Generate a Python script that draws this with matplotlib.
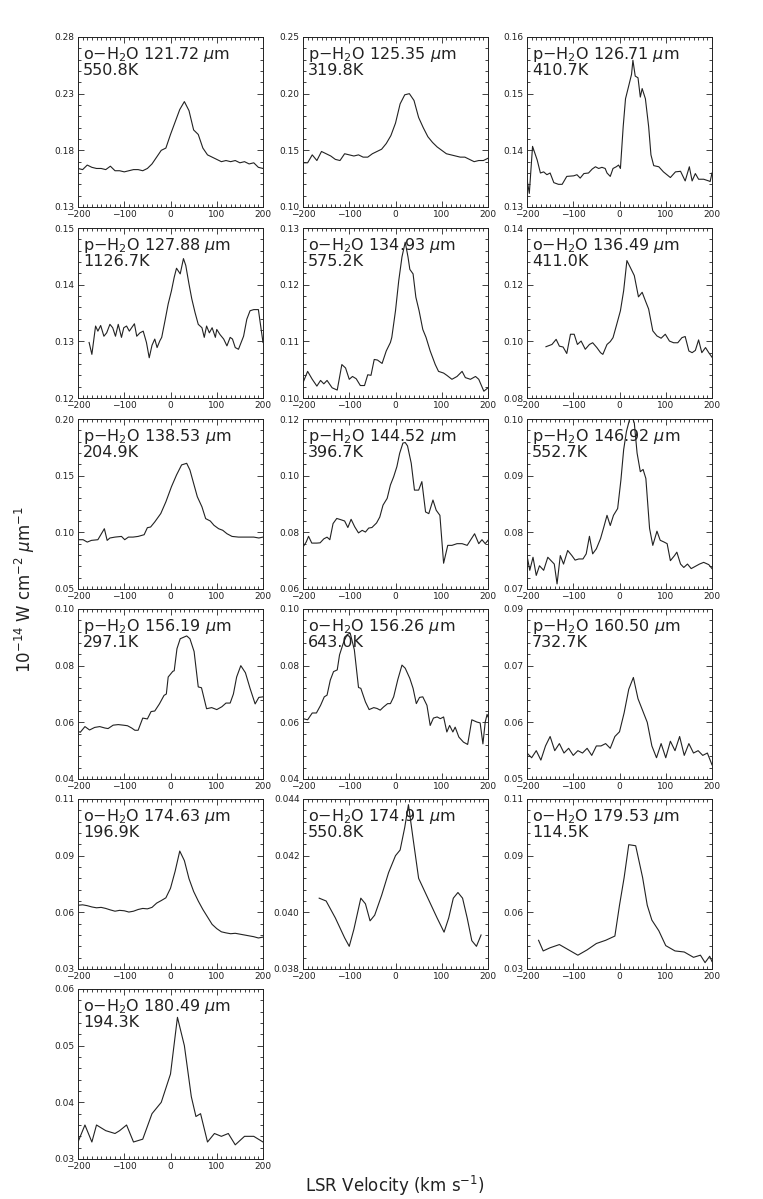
import matplotlib
matplotlib.use('Agg')
import matplotlib.pyplot as plt
from matplotlib.ticker import MultipleLocator, AutoMinorLocator
import numpy as np

# line names and upper level energies
names = ['o$-$H$_2$O 121.72 $\\mu$m', 'p$-$H$_2$O 125.35 $\\mu$m', 'p$-$H$_2$O 126.71 $\\mu$m',
         'p$-$H$_2$O 127.88 $\\mu$m', 'o$-$H$_2$O 134.93 $\\mu$m', 'o$-$H$_2$O 136.49 $\\mu$m',
         'p$-$H$_2$O 138.53 $\\mu$m', 'p$-$H$_2$O 144.52 $\\mu$m', 'p$-$H$_2$O 146.92 $\\mu$m',
         'p$-$H$_2$O 156.19 $\\mu$m', 'o$-$H$_2$O 156.26 $\\mu$m', 'p$-$H$_2$O 160.50 $\\mu$m',
         'o$-$H$_2$O 174.63 $\\mu$m', 'o$-$H$_2$O 174.91 $\\mu$m', 'o$-$H$_2$O 179.53 $\\mu$m',
         'o$-$H$_2$O 180.49 $\\mu$m']
temps = ['550.8K', '319.8K', '410.7K', '1126.7K', '575.2K', '411.0K', '204.9K', '396.7K',
         '552.7K', '297.1K', '643.0K', '732.7K', '196.9K', '550.8K', '114.5K', '194.3K']

ylims = [(0.13, 0.28), (0.10, 0.25), (0.13, 0.16), (0.12, 0.15), (0.10, 0.13), (0.08, 0.14),
         (0.05, 0.20), (0.06, 0.12), (0.07, 0.10), (0.04, 0.10), (0.04, 0.10), (0.05, 0.086),
         (0.032, 0.112), (0.038, 0.044), (0.032, 0.112), (0.03, 0.06)]
ytlabels = [['0.13', '0.18', '0.23', '0.28'], ['0.10', '0.15', '0.20', '0.25'],
            ['0.13', '0.14', '0.15', '0.16'], ['0.12', '0.13', '0.14', '0.15'],
            ['0.10', '0.11', '0.12', '0.13'], ['0.08', '0.10', '0.12', '0.14'],
            ['0.05', '0.10', '0.15', '0.20'], ['0.06', '0.08', '0.10', '0.12'],
            ['0.07', '0.08', '0.09', '0.10'], ['0.04', '0.06', '0.08', '0.10'],
            ['0.04', '0.06', '0.08', '0.10'], ['0.05', '0.06', '0.07', '0.09'],
            ['0.03', '0.06', '0.09', '0.11'], ['0.038', '0.040', '0.042', '0.044'],
            ['0.03', '0.06', '0.09', '0.11'], ['0.03', '0.04', '0.05', '0.06']]

v_step = list(range(-200, 201, 10))

v1 = v_step
f1 = [0.164, 0.163, 0.167, 0.165, 0.164, 0.164, 0.163, 0.166, 0.162, 0.162, 0.161, 0.162, 0.163,
      0.163, 0.162, 0.164, 0.168, 0.174, 0.180, 0.182, 0.194, 0.205, 0.216, 0.223, 0.215, 0.198,
      0.194, 0.182, 0.176, 0.174, 0.172, 0.170, 0.171, 0.170, 0.171, 0.169, 0.170, 0.168, 0.169,
      0.165, 0.164]

v2 = v_step
f2 = [0.139, 0.139, 0.146, 0.141, 0.149, 0.147, 0.145, 0.142, 0.141, 0.147, 0.146, 0.145, 0.146,
      0.144, 0.144, 0.147, 0.149, 0.151, 0.156, 0.163, 0.174, 0.191, 0.199, 0.200, 0.194, 0.179,
      0.170, 0.162, 0.157, 0.153, 0.150, 0.147, 0.146, 0.145, 0.144, 0.144, 0.142, 0.140, 0.141,
      0.141, 0.143]

v3 = [-200, -195, -188, -178, -171, -164, -157, -150, -142, -132, -124, -114, -99, -92, -85, -77,
      -67, -59, -52, -45, -38, -31, -27, -20, -14, -7, -2, 2, 8, 13, 20, 26, 29, 34, 40, 45, 49,
      56, 63, 68, 74, 85, 95, 110, 121, 132, 142, 151, 157, 164, 171, 182, 193, 196, 200]
f3 = [0.1349, 0.1324, 0.1407, 0.1383, 0.1360, 0.1362, 0.1357, 0.1360, 0.1343, 0.1340, 0.1340,
      0.1354, 0.1355, 0.1357, 0.1351, 0.1359, 0.1360, 0.1367, 0.1371, 0.1368, 0.1370, 0.1368,
      0.1360, 0.1354, 0.1368, 0.1371, 0.1374, 0.1368, 0.1442, 0.1491, 0.1514, 0.1534, 0.1559,
      0.1531, 0.1528, 0.1494, 0.1509, 0.1491, 0.1442, 0.1392, 0.1373, 0.1371, 0.1362, 0.1352,
      0.1362, 0.1363, 0.1346, 0.1371, 0.1346, 0.1359, 0.1349, 0.1349, 0.1346, 0.1345, 0.1360]

v4 = [-176, -170, -162, -157, -151, -144, -138, -131, -125, -119, -113, -106, -101, -95, -89,
      -84, -78, -73, -66, -59, -52, -46, -40, -34, -29, -23, -19, -12, -5, 2, 8, 13, 21, 28, 33,
      40, 46, 53, 60, 68, 73, 78, 84, 90, 97, 100, 107, 115, 122, 129, 134, 140, 147, 158, 165,
      172, 180, 190, 200]
f4 = [0.1298, 0.1277, 0.1327, 0.1318, 0.1328, 0.1309, 0.1315, 0.1330, 0.1324, 0.1309, 0.1330,
      0.1307, 0.1324, 0.1327, 0.1318, 0.1324, 0.1331, 0.1309, 0.1315, 0.1318, 0.1298, 0.1271,
      0.1293, 0.1304, 0.1289, 0.1301, 0.1307, 0.1336, 0.1366, 0.1389, 0.1413, 0.1429, 0.1419,
      0.1446, 0.1434, 0.1401, 0.1375, 0.1351, 0.1330, 0.1324, 0.1307, 0.1327, 0.1315, 0.1324,
      0.1307, 0.1321, 0.1312, 0.1304, 0.1292, 0.1307, 0.1304, 0.1289, 0.1286, 0.1309, 0.1339,
      0.1354, 0.1356, 0.1356, 0.1298]

v5 = [-200, -190, -180, -170, -162, -155, -148, -137, -126, -116, -108, -100, -93, -85, -76, -67,
      -60, -53, -46, -39, -29, -20, -11, -8, 0, 7, 14, 21, 27, 31, 38, 44, 51, 59, 66, 75, 86, 93,
      104, 111, 122, 133, 144, 151, 162, 173, 180, 191, 200]
f5 = [0.1027, 0.1047, 0.1033, 0.1021, 0.1031, 0.1025, 0.1031, 0.1018, 0.1014, 0.1059, 0.1053,
      0.1033, 0.1038, 0.1034, 0.1022, 0.1022, 0.1041, 0.1040, 0.1068, 0.1067, 0.1061, 0.1083,
      0.1098, 0.1107, 0.1154, 0.1207, 0.1249, 0.1275, 0.1249, 0.1227, 0.1219, 0.1178, 0.1154,
      0.1121, 0.1107, 0.1083, 0.1059, 0.1047, 0.1044, 0.1040, 0.1033, 0.1038, 0.1047, 0.1036,
      0.1033, 0.1038, 0.1033, 0.1012, 0.1018]

v6 = [-159, -146, -137, -130, -122, -114, -106, -98, -91, -83, -74, -65, -58, -49, -41, -36, -27,
      -20, -14, -7, 2, 9, 16, 23, 32, 41, 49, 56, 63, 72, 81, 90, 99, 108, 117, 126, 135, 142,
      150, 157, 164, 171, 178, 186, 193, 200]
f6 = [0.0981, 0.0989, 0.1007, 0.0983, 0.0980, 0.0957, 0.1025, 0.1025, 0.0989, 0.1001, 0.0972,
      0.0989, 0.0995, 0.0978, 0.0960, 0.0954, 0.0989, 0.0999, 0.1013, 0.1054, 0.1108, 0.1179,
      0.1285, 0.1262, 0.1232, 0.1157, 0.1173, 0.1143, 0.1114, 0.1037, 0.1019, 0.1011, 0.1025,
      0.1001, 0.0995, 0.0995, 0.1013, 0.1017, 0.0966, 0.0960, 0.0968, 0.1005, 0.0960, 0.0978,
      0.0960, 0.0944]

v7 = [-200, -189, -180, -171, -157, -143, -137, -131, -120, -106, -99, -91, -81, -70, -57, -50,
      -43, -34, -21, -10, 2, 13, 24, 35, 42, 51, 58, 68, 76, 86, 94, 104, 113, 122, 133, 147, 165,
      180, 191, 200]
f7 = [0.0935, 0.0935, 0.0914, 0.0929, 0.0935, 0.1032, 0.0929, 0.0950, 0.0958, 0.0964, 0.0935,
      0.0958, 0.0958, 0.0964, 0.0979, 0.1041, 0.1047, 0.1092, 0.1166, 0.1269, 0.1402, 0.1506,
      0.1595, 0.1609, 0.1550, 0.1417, 0.1314, 0.1225, 0.1121, 0.1100, 0.1062, 0.1032, 0.1018,
      0.0988, 0.0964, 0.0958, 0.0958, 0.0958, 0.0950, 0.0958]

v8 = [-200, -193, -188, -181, -170, -163, -155, -148, -142, -135, -127, -119, -110, -103, -96,
      -88, -80, -72, -65, -58, -51, -41, -34, -27, -18, -11, -4, 3, 9, 16, 21, 26, 34, 41, 50, 57,
      65, 72, 81, 88, 96, 104, 113, 122, 133, 144, 155, 162, 171, 180, 187, 194, 200]
f8 = [0.0748, 0.0766, 0.0786, 0.0762, 0.0762, 0.0763, 0.0777, 0.0783, 0.0774, 0.0831, 0.0849,
      0.0845, 0.0840, 0.0817, 0.0846, 0.0819, 0.0798, 0.0807, 0.0801, 0.0815, 0.0817, 0.0833,
      0.0854, 0.0896, 0.0920, 0.0967, 0.0996, 0.1032, 0.1079, 0.1115, 0.1117, 0.1105, 0.1044,
      0.0949, 0.0949, 0.0979, 0.0872, 0.0866, 0.0914, 0.0878, 0.0860, 0.0691, 0.0754, 0.0754,
      0.0760, 0.0760, 0.0754, 0.0772, 0.0795, 0.0760, 0.0774, 0.0760, 0.0772]

v9 = [-200, -194, -187, -180, -173, -164, -155, -148, -141, -135, -128, -121, -112, -103, -96,
      -88, -79, -72, -65, -58, -50, -41, -34, -27, -20, -13, -4, 3, 9, 15, 22, 27, 32, 38, 45, 51,
      57, 65, 72, 81, 88, 96, 103, 110, 119, 124, 132, 139, 147, 155, 164, 173, 182, 193, 200]
f9 = [0.0759, 0.0733, 0.0756, 0.0724, 0.0741, 0.0733, 0.0756, 0.0750, 0.0744, 0.0709, 0.0759,
      0.0744, 0.0768, 0.0759, 0.0751, 0.0753, 0.0753, 0.0762, 0.0793, 0.0762, 0.0771, 0.0789,
      0.0809, 0.0830, 0.0812, 0.0830, 0.0842, 0.0892, 0.0946, 0.0978, 0.1000, 0.1005, 0.0993,
      0.0940, 0.0907, 0.0911, 0.0895, 0.0807, 0.0777, 0.0802, 0.0786, 0.0783, 0.0780, 0.0750,
      0.0759, 0.0765, 0.0744, 0.0738, 0.0744, 0.0736, 0.0740, 0.0744, 0.0747, 0.0743, 0.0736]

v10 = [-200, -195, -185, -175, -164, -153, -142, -135, -124, -113, -102, -93, -84, -77, -70, -60,
       -50, -42, -34, -24, -14, -9, -5, 5, 8, 14, 21, 35, 42, 51, 60, 67, 78, 89, 100, 111, 120,
       129, 136, 143, 152, 162, 172, 183, 191, 200]
f10 = [0.0568, 0.0565, 0.0585, 0.0573, 0.0582, 0.0585, 0.0580, 0.0578, 0.0590, 0.0592, 0.0590,
       0.0588, 0.0580, 0.0572, 0.0572, 0.0615, 0.0612, 0.0638, 0.0640, 0.0665, 0.0695, 0.0700,
       0.0760, 0.0780, 0.0782, 0.0860, 0.0895, 0.0905, 0.0895, 0.0850, 0.0725, 0.0722, 0.0648,
       0.0652, 0.0645, 0.0655, 0.0668, 0.0668, 0.0700, 0.0760, 0.0800, 0.0775, 0.0720, 0.0665,
       0.0688, 0.0690]

v11 = [-200, -190, -180, -171, -162, -154, -148, -141, -134, -126, -121, -113, -105, -98, -89,
       -80, -75, -65, -57, -47, -40, -33, -26, -17, -11, -4, 5, 14, 21, 31, 38, 45, 52, 59, 68,
       75, 82, 90, 97, 104, 111, 117, 124, 129, 137, 147, 156, 165, 176, 183, 189, 194, 198, 200]
f11 = [0.0613, 0.0609, 0.0633, 0.0633, 0.0660, 0.0690, 0.0696, 0.0749, 0.0779, 0.0785, 0.0838,
       0.0879, 0.0909, 0.0915, 0.0856, 0.0723, 0.0720, 0.0672, 0.0645, 0.0652, 0.0649, 0.0643,
       0.0654, 0.0666, 0.0666, 0.0690, 0.0751, 0.0802, 0.0791, 0.0755, 0.0720, 0.0666, 0.0688,
       0.0690, 0.0660, 0.0589, 0.0615, 0.0619, 0.0613, 0.0619, 0.0566, 0.0589, 0.0566, 0.0583,
       0.0548, 0.0530, 0.0522, 0.0609, 0.0601, 0.0598, 0.0524, 0.0601, 0.0628, 0.0619]

v12 = v_step
f12 = [0.0555, 0.0545, 0.0560, 0.0540, 0.0570, 0.0590, 0.0560, 0.0575, 0.0555, 0.0565, 0.0550,
       0.0560, 0.0555, 0.0565, 0.0550, 0.0570, 0.0570, 0.0575, 0.0565, 0.0590, 0.0600, 0.0640,
       0.0690, 0.0715, 0.0670, 0.0645, 0.0620, 0.0570, 0.0545, 0.0575, 0.0545, 0.0580, 0.0560,
       0.0590, 0.0550, 0.0575, 0.0555, 0.0560, 0.0550, 0.0555, 0.0530]

v13 = v_step
f13 = [0.0620, 0.0622, 0.0618, 0.0612, 0.0608, 0.0610, 0.0605, 0.0598, 0.0592, 0.0596, 0.0594,
       0.0588, 0.0592, 0.0600, 0.0605, 0.0603, 0.0610, 0.0630, 0.0642, 0.0655, 0.0700, 0.0780,
       0.0875, 0.0830, 0.0745, 0.0685, 0.0640, 0.0600, 0.0565, 0.0530, 0.0510, 0.0495, 0.0490,
       0.0486, 0.0488, 0.0484, 0.0480, 0.0476, 0.0472, 0.0466, 0.0470]

v14 = [-165, -150, -130, -110, -100, -90, -75, -65, -55, -45, -30, -15, 0, 10, 20, 28, 38, 50, 70,
       90, 105, 115, 125, 135, 145, 155, 165, 175, 185]
f14 = [0.0405, 0.0404, 0.0398, 0.0391, 0.0388, 0.0394, 0.0405, 0.0403, 0.0397, 0.0399, 0.0406,
       0.0414, 0.0420, 0.0422, 0.0430, 0.0438, 0.0426, 0.0412, 0.0405, 0.0398, 0.0393, 0.0398,
       0.0405, 0.0407, 0.0405, 0.0398, 0.0390, 0.0388, 0.0392]

v15 = [-175, -165, -150, -130, -110, -90, -70, -50, -30, -10, 0, 10, 20, 35, 50, 60, 70, 85, 100,
       120, 140, 160, 175, 185, 195, 200]
f15 = [0.0455, 0.0405, 0.0420, 0.0435, 0.0410, 0.0385, 0.0410, 0.0440, 0.0455, 0.0475, 0.0620,
       0.0750, 0.0905, 0.0900, 0.0750, 0.0620, 0.0550, 0.0500, 0.0430, 0.0405, 0.0400, 0.0375,
       0.0385, 0.0350, 0.0380, 0.0355]

v16 = [-200, -185, -170, -160, -140, -120, -110, -95, -80, -60, -40, -20, 0, 15, 30, 45, 55, 65,
       80, 95, 110, 125, 140, 160, 180, 200]
f16 = [0.0330, 0.0360, 0.0330, 0.0360, 0.0350, 0.0345, 0.0350, 0.0360, 0.0330, 0.0335, 0.0380,
       0.0400, 0.0450, 0.0550, 0.0500, 0.0410, 0.0375, 0.0380, 0.0330, 0.0345, 0.0340, 0.0345,
       0.0325, 0.0340, 0.0340, 0.0330]

vels = [v1, v2, v3, v4, v5, v6, v7, v8, v9, v10, v11, v12, v13, v14, v15, v16]
fluxes = [f1, f2, f3, f4, f5, f6, f7, f8, f9, f10, f11, f12, f13, f14, f15, f16]

W, H = 763, 1199
fig = plt.figure(figsize=(W / 100, H / 100), dpi=100)

col_x = [78, 303, 527]
row_y = [37, 228, 419, 609, 799, 989]
pw, ph = 185, 170
lc = '#222222'

for i in range(16):
    r, c = divmod(i, 3)
    ax = fig.add_axes([col_x[c] / W, 1 - (row_y[r] + ph) / H, pw / W, ph / H])
    ax.plot(vels[i], fluxes[i], color=lc, lw=0.8)
    ax.set_xlim(-200, 200)
    lo, hi = ylims[i]
    ax.set_ylim(lo, hi)
    ax.set_xticks([-200, -100, 0, 100, 200])
    ax.xaxis.set_minor_locator(MultipleLocator(10))
    yt = np.linspace(lo, hi, 4)
    ax.set_yticks(yt)
    ax.set_yticklabels(ytlabels[i])
    ax.yaxis.set_minor_locator(AutoMinorLocator(5))
    ax.tick_params(which='both', direction='in', top=True, right=True, colors=lc,
                   labelcolor=lc, labelsize=6.5, pad=2.5, width=0.6)
    ax.tick_params(which='major', length=4)
    ax.tick_params(which='minor', length=2)
    for s in ax.spines.values():
        s.set_linewidth(0.7)
        s.set_color(lc)
    ax.annotate(names[i], xy=(0, 1), xycoords='axes fraction', xytext=(3.5, -16),
                textcoords='offset points', va='baseline', ha='left', fontsize=11.5, color=lc)
    ax.annotate(temps[i], xy=(0, 1), xycoords='axes fraction', xytext=(3.5, -27.5),
                textcoords='offset points', va='baseline', ha='left', fontsize=11.5, color=lc)

fig.text(25 / W, 1 - 590 / H, r'10$^{-14}$ W cm$^{-2}$ $\mu$m$^{-1}$', rotation=90,
         ha='center', va='center', fontsize=12, color=lc)
fig.text(395 / W, 1 - 1186 / H, r'LSR Velocity (km s$^{-1}$)', ha='center', va='center',
         fontsize=12, color=lc)

fig.savefig('out.png', dpi=100)
